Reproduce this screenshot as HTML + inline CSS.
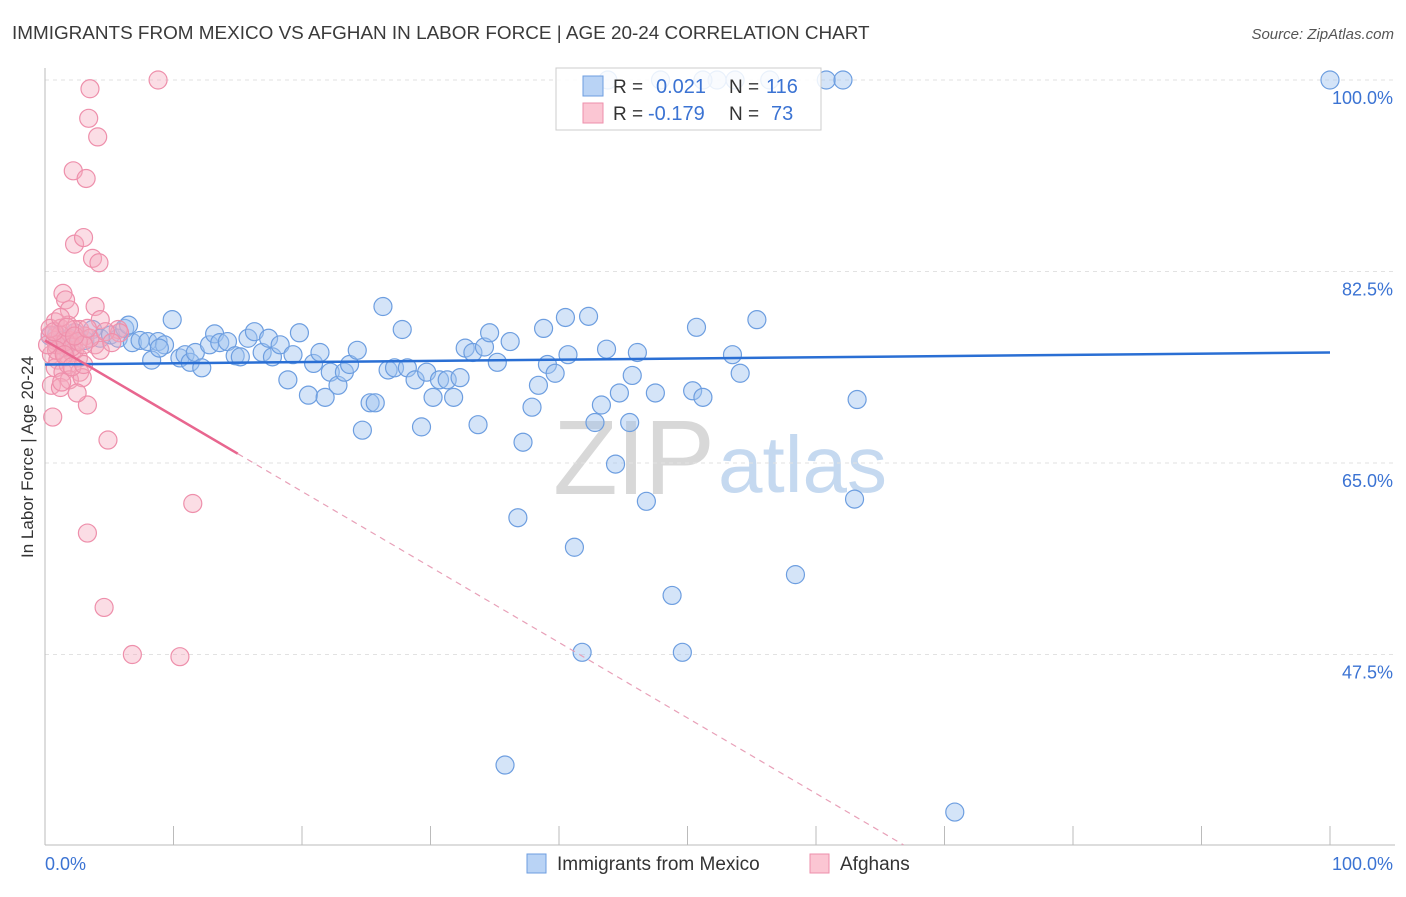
<!DOCTYPE html>
<html><head><meta charset="utf-8"><style>
body{margin:0;background:#fff;font-family:"Liberation Sans",sans-serif;}
svg text{font-family:"Liberation Sans",sans-serif;}
</style></head><body>
<svg id="chart" width="1406" height="892" xmlns="http://www.w3.org/2000/svg">
<text x="12" y="39" font-size="18.9" fill="#3a3a3a">IMMIGRANTS FROM MEXICO VS AFGHAN IN LABOR FORCE | AGE 20-24 CORRELATION CHART</text>
<text x="1394" y="39" font-size="15" fill="#555" text-anchor="end" font-style="italic">Source: ZipAtlas.com</text>
<text transform="translate(33,457) rotate(-90)" font-size="17" fill="#333" text-anchor="middle">In Labor Force | Age 20-24</text>
<g>
<text x="553" y="494" font-size="106" font-family="Liberation Serif,serif" fill="#d8d8d8" textLength="162">ZIP</text>
<text x="718" y="492" font-size="80" fill="#c5d9f0">atlas</text>
</g>
<g id="grid"></g><g id="axes"></g><g id="marks"></g><g id="trends"></g>
<g>
<rect x="556" y="68" width="265" height="62" fill="#fff" fill-opacity="0.85" stroke="#ccc"/>
<rect x="583" y="76" width="20" height="20" fill="#b9d3f5" stroke="#6d9ee0"/>
<rect x="583" y="103" width="20" height="20" fill="#fbc6d3" stroke="#ee8fab"/>
<text x="613" y="93" font-size="19" fill="#333">R =</text>
<text x="656" y="93" font-size="20" fill="#3b73d3">0.021</text>
<text x="729" y="93" font-size="19" fill="#333">N =</text>
<text x="766" y="93" font-size="20" fill="#3b73d3">116</text>
<text x="613" y="120" font-size="19" fill="#333">R =</text>
<text x="648" y="120" font-size="20" fill="#3b73d3">-0.179</text>
<text x="729" y="120" font-size="19" fill="#333">N =</text>
<text x="771" y="120" font-size="20" fill="#3b73d3">73</text>
</g>
<g>
<rect x="527" y="854" width="19" height="19" fill="#b9d3f5" stroke="#6d9ee0"/>
<text x="557" y="870" font-size="19" fill="#333">Immigrants from Mexico</text>
<rect x="810" y="854" width="19" height="19" fill="#fbc6d3" stroke="#ee8fab"/>
<text x="840" y="870" font-size="19" fill="#333">Afghans</text>
</g>
</svg>
<script>
const yTicks=[100,82.5,65,47.5];
const yTickLabels=["100.0%","82.5%","65.0%","47.5%"];
const xTickLabels=["0.0%","100.0%"];
const blueX=[0.9,1.3,1.9,2.3,3.1,3.7,4.3,5.1,5.7,6.2,6.8,7.4,8.0,8.3,8.8,9.3,9.9,10.5,10.9,11.3,11.7,12.2,12.8,13.2,13.6,14.2,14.8,15.2,15.8,16.3,16.9,17.4,17.7,18.3,18.9,19.3,19.8,20.5,20.9,21.4,21.8,22.2,22.8,23.3,23.7,24.3,24.7,25.3,25.7,26.3,26.7,27.2,27.8,28.2,28.8,29.3,29.7,30.2,30.7,31.3,31.8,32.3,32.7,33.3,33.7,34.2,34.6,35.2,36.2,36.8,37.2,37.9,38.4,38.8,39.1,39.7,40.5,40.7,41.2,41.8,42.3,42.8,43.3,43.7,44.4,44.7,45.5,45.7,46.1,46.8,47.5,48.8,49.6,50.4,50.7,51.2,53.5,54.1,55.4,58.4,63.0,63.2,35.8,70.8,60.8,62.1,100,47.9,52.3,56.4,43.8,51.2,53.7,6.5,8.9,0.4,1.6];
const blueY=[76.7,76.2,76.4,76.9,76.2,77.2,76.4,76.7,76.4,77.3,76.0,76.2,76.1,74.4,76.1,75.8,78.1,74.6,74.9,74.2,75.1,73.7,75.8,76.8,76.0,76.1,74.8,74.7,76.4,77.0,75.1,76.4,74.7,75.8,72.6,74.9,76.9,71.2,74.1,75.1,71.0,73.3,72.1,73.3,74.0,75.3,68.0,70.5,70.5,79.3,73.5,73.7,77.2,73.7,72.6,68.3,73.3,71.0,72.6,72.6,71.0,72.8,75.5,75.1,68.5,75.6,76.9,74.2,76.1,60.0,66.9,70.1,72.1,77.3,74.0,73.2,78.3,74.9,57.3,47.7,78.4,68.7,70.3,75.4,64.9,71.4,68.7,73.0,75.1,61.5,71.4,52.9,47.7,71.6,77.4,71.0,74.9,73.2,78.1,54.8,61.7,70.8,37.4,33.1,100,100,100,100,100,100,100,100,100,77.6,75.5,76.6,75.5];
const pinkX=[8.8,3.5,3.4,4.1,2.2,3.2,2.3,3.0,3.7,4.2,1.4,1.6,3.9,1.9,4.3,0.8,1.2,1.8,2.7,3.1,0.4,0.8,1.3,1.9,2.3,0.5,1.0,1.6,2.1,2.6,0.8,1.4,1.8,2.7,0.5,1.2,1.9,2.9,3.3,0.6,4.9,11.5,3.3,4.6,6.8,10.5,5.7,3.9,4.3,5.8,3.5,2.3,1.2,0.9,1.6,2.1,2.6,3.0,0.9,1.5,0.2,0.4,0.7,1.2,1.7,2.3,1.3,2.1,3.0,2.5,3.3,4.7,5.2];
const pinkY=[100,99.2,96.5,94.8,91.7,91.0,85.0,85.6,83.7,83.3,80.5,79.9,79.3,79.0,78.1,77.9,77.3,77.6,77.2,76.6,76.7,76.2,75.8,76.2,75.3,74.9,74.4,74.7,75.1,74.6,73.7,73.3,74.0,73.3,72.1,71.9,72.6,72.8,70.3,69.2,67.1,61.3,58.6,51.8,47.5,47.3,77.2,75.8,75.3,76.9,76.4,77.2,76.7,75.8,76.1,75.6,76.1,75.8,75.3,74.9,75.8,77.3,77.0,78.3,77.4,76.6,72.4,73.8,74.0,71.4,77.3,77.0,76.0];
const blueTrend=[74.0,75.1];
const pinkTrend=[76.2,-0.69];
const NS="http://www.w3.org/2000/svg";
const X=v=>45+v*12.85, Y=v=>80+(100-v)*10.943;
function mk(tag,attrs,parent){const e=document.createElementNS(NS,tag);for(const k in attrs)e.setAttribute(k,attrs[k]);parent.appendChild(e);return e;}
const grid=document.getElementById('grid'),axes=document.getElementById('axes'),marks=document.getElementById('marks'),trends=document.getElementById('trends');
yTicks.forEach((t,i)=>{
 const l=mk('line',{x1:45,x2:1395,y1:Y(t),y2:Y(t),stroke:'#e2e2e2','stroke-dasharray':'4,4'},grid);
 
 
 const tx=mk('text',{x:1393,y:Y(t)+24,'font-size':18,fill:'#3b73d3','text-anchor':'end'},axes);
 tx.textContent=yTickLabels[i];
 
 
});
const ax=mk('line',{x1:45,x2:1395,y1:845,y2:845,stroke:'#bbb'},axes);


const ay=mk('line',{x1:45,x2:45,y1:68,y2:845,stroke:'#bbb'},axes);


for(let i=0;i<=10;i++){const t=mk('line',{x1:X(i*10),x2:X(i*10),y1:826,y2:845,stroke:'#bbb'},axes);
 
 }
[[0,'start',45],[1,'end',1393]].forEach(([i,a,x])=>{const t=mk('text',{x:x,y:870,'font-size':18,fill:'#3b73d3','text-anchor':a},axes);t.textContent=xTickLabels[i];
 
 });
blueX.forEach((x,i)=>{const c=mk('circle',{cx:X(x),cy:Y(blueY[i]),r:9,fill:'rgba(160,196,240,0.45)',stroke:'#6d9ee0','stroke-width':1.2},marks);
 
 });
pinkX.forEach((x,i)=>{const c=mk('circle',{cx:X(x),cy:Y(pinkY[i]),r:9,fill:'rgba(246,170,190,0.4)',stroke:'#ee8fab','stroke-width':1.2},marks);
 
 });
const bl=mk('line',{x1:X(0),y1:Y(blueTrend[0]),x2:X(100),y2:Y(blueTrend[1]),stroke:'#2a6fd4','stroke-width':2.5},trends);


const pf=x=>pinkTrend[0]+pinkTrend[1]*x;
const xEnd=(30.1-pinkTrend[0])/pinkTrend[1];
const ps=mk('line',{x1:X(0),y1:Y(pf(0)),x2:X(15),y2:Y(pf(15)),stroke:'#e8668f','stroke-width':2.5},trends);


const pd=mk('line',{x1:X(15),y1:Y(pf(15)),x2:X(xEnd),y2:Y(pf(xEnd)),stroke:'#e8a0b8','stroke-width':1.2,'stroke-dasharray':'6,5'},trends);


</script>
</body></html>
